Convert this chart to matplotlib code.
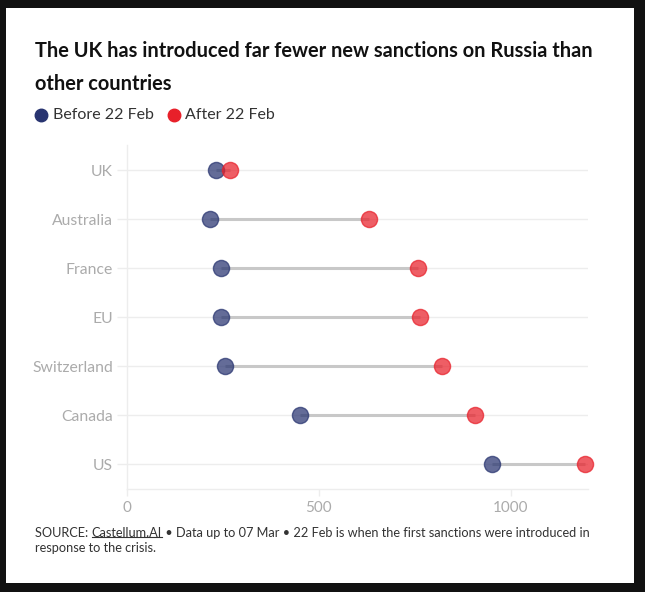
import matplotlib
matplotlib.use("Agg")
import matplotlib.pyplot as plt
from matplotlib.patches import Rectangle
from matplotlib.lines import Line2D

# data (number of new sanctions)
countries = ["UK", "Australia", "France", "EU", "Switzerland", "Canada", "US"]
before = [233, 217, 246, 246, 256, 451, 951]
after = [269, 631, 759, 764, 821, 907, 1194]
xticks = [0, 500, 1000]

navy = "#283470"
red = "#e8202a"
grid = "#ededed"

plt.rcParams["font.family"] = ["Lato", "DejaVu Sans"]

W, H = 645, 592
fig = plt.figure(figsize=(W / 100, H / 100), dpi=100, facecolor="#111111")
# white card
fig.patches.append(Rectangle((6 / W, 1 - 583 / H), 628 / W, 575 / H,
                             transform=fig.transFigure, facecolor="white",
                             edgecolor="none", zorder=-5))

ax = fig.add_axes([126.7 / W, 1 - 489 / H, 461.6 / W, 343.5 / H])
ax.set_facecolor("white")

ypos = list(range(len(countries)))[::-1]
for y, b, a in zip(ypos, before, after):
    ax.plot([b, a], [y, y], color="#c8c8c8", lw=2.2, zorder=2, solid_capstyle="butt")
ax.scatter(before, ypos, s=135, color=navy, alpha=0.72, edgecolors=navy,
           linewidths=1.0, zorder=3, clip_on=False)
ax.scatter(after, ypos, s=135, color=red, alpha=0.72, edgecolors=red,
           linewidths=1.0, zorder=4, clip_on=False)

ax.set_xlim(0, 1202)
ax.set_ylim(-0.5, len(countries) - 0.5)
ax.set_yticks(ypos)
ax.set_yticklabels(countries)
ax.set_xticks(xticks)
ax.set_xticklabels([str(v) for v in xticks])
ax.grid(axis="y", color=grid, lw=1.0, zorder=1)
ax.set_axisbelow(True)
for s in ["top", "right"]:
    ax.spines[s].set_visible(False)
for s in ["left", "bottom"]:
    ax.spines[s].set_color(grid)
    ax.spines[s].set_linewidth(1.0)
ax.tick_params(axis="y", length=7, width=1.0, color=grid, pad=3,
               labelsize=11.3, labelcolor="#ababab")
ax.tick_params(axis="x", length=5, width=1.0, color=grid, pad=4,
               labelsize=11, labelcolor="#ababab")

# title
fig.text(35 / W, 1 - 51 / H, "The UK has introduced far fewer new sanctions on Russia than",
         fontsize=14.4, fontweight="bold", color="#111111", va="center")
fig.text(35 / W, 1 - 84 / H, "other countries",
         fontsize=14.4, fontweight="bold", color="#111111", va="center")

# legend
for cx, col, tx, label in [(41, navy, 53, "Before 22 Feb"), (174, red, 185, "After 22 Feb")]:
    fig.lines.append(Line2D([cx / W], [1 - 115 / H], marker="o", markersize=9,
                            color=col, transform=fig.transFigure))
    fig.text(tx / W, 1 - 115 / H, label, fontsize=11.5, color="#333333", va="center")

# source note
fs = 9.2
y1 = 1 - 533 / H
t1 = fig.text(35 / W, y1, "SOURCE: ", fontsize=fs, color="#333333", va="center")
fig.canvas.draw()
r = fig.canvas.get_renderer()
bb = t1.get_window_extent(r)
t2 = fig.text(bb.x1 / W, y1, "Castellum.AI", fontsize=fs, color="#333333", va="center")
bb2 = t2.get_window_extent(r)
fig.lines.append(Line2D([bb2.x0 / W, bb2.x1 / W], [(bb2.y0 + 2) / H] * 2,
                        color="#333333", lw=0.8, transform=fig.transFigure))
fig.text(bb2.x1 / W, y1,
         " \u2022 Data up to 07 Mar \u2022 22 Feb is when the first sanctions were introduced in",
         fontsize=fs, color="#333333", va="center")
fig.text(35 / W, 1 - 548 / H, "response to the crisis.", fontsize=fs, color="#333333", va="center")

fig.savefig("out.png", dpi=100, facecolor=fig.get_facecolor())
